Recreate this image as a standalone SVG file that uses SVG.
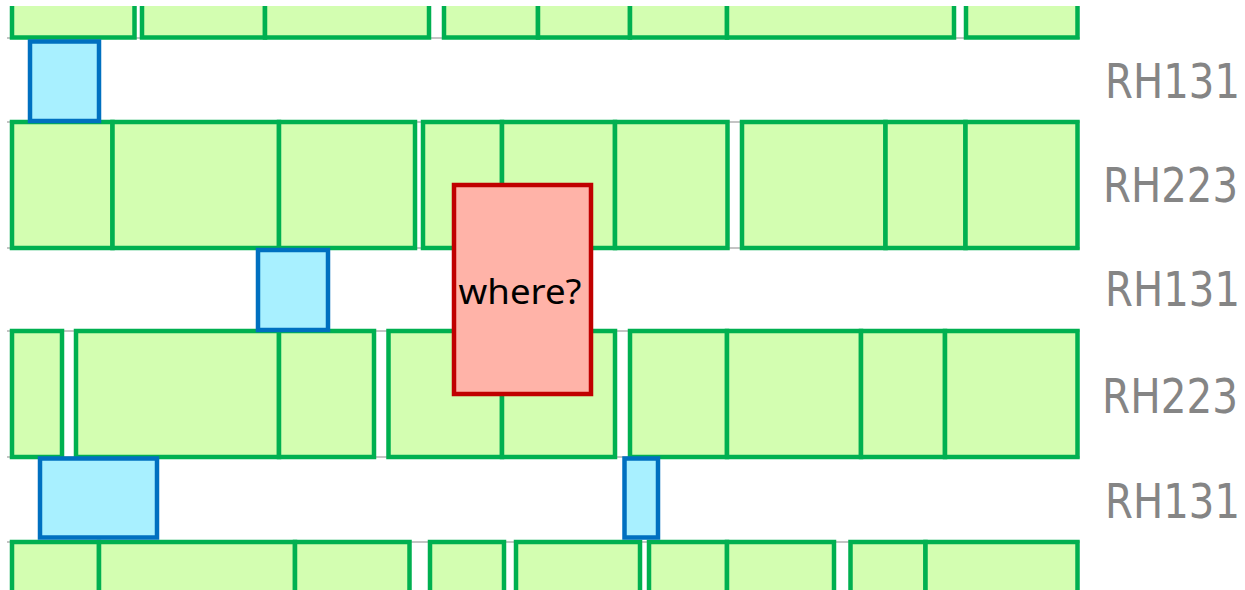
<svg xmlns="http://www.w3.org/2000/svg" width="1245" height="590" viewBox="0 0 1245 590">
<style>
.g{fill:#D3FEB1;stroke:#00B050;stroke-width:4.5}
.b{fill:#A8F0FF;stroke:#0070C0;stroke-width:4.5}
.r{fill:#FFB3A8;stroke:#C00000;stroke-width:4.5}
.trk{stroke:#C4C4C4;stroke-width:2}
.lbl{font-family:"DejaVu Sans",Verdana,sans-serif;font-size:48px;fill:#858585}
.q{font-family:"Noto Sans","Open Sans",sans-serif;font-size:35px;fill:#000}
</style>
<defs>
<clipPath id="clip"><rect x="0" y="6" width="1245" height="590"/></clipPath>
</defs>
<rect width="1245" height="590" fill="#fff"/>
<g id="tracks">
<line class="trk" x1="7" y1="38" x2="1080" y2="38"/>
<line class="trk" x1="7" y1="122" x2="1080" y2="122"/>
<line class="trk" x1="7" y1="248" x2="1080" y2="248"/>
<line class="trk" x1="7" y1="331" x2="1080" y2="331"/>
<line class="trk" x1="7" y1="457" x2="1080" y2="457"/>
<line class="trk" x1="7" y1="542" x2="1080" y2="542"/>
</g>
<g clip-path="url(#clip)">
<g id="row1">
<rect class="g" x="12" y="-20" width="122.5" height="57.5"/>
<rect class="g" x="142" y="-20" width="123" height="57.5"/>
<rect class="g" x="265" y="-20" width="164" height="57.5"/>
<rect class="g" x="444" y="-20" width="94" height="57.5"/>
<rect class="g" x="538" y="-20" width="92" height="57.5"/>
<rect class="g" x="630" y="-20" width="97" height="57.5"/>
<rect class="g" x="727" y="-20" width="227" height="57.5"/>
<rect class="g" x="966" y="-20" width="111.5" height="57.5"/>
</g>
<g id="row2">
<rect class="g" x="12" y="122" width="100.5" height="126"/>
<rect class="g" x="112.5" y="122" width="166.5" height="126"/>
<rect class="g" x="279" y="122" width="136" height="126"/>
<rect class="g" x="423" y="122" width="79" height="126"/>
<rect class="g" x="502" y="122" width="113" height="126"/>
<rect class="g" x="615" y="122" width="112.5" height="126"/>
<rect class="g" x="742" y="122" width="143.5" height="126"/>
<rect class="g" x="885.5" y="122" width="80" height="126"/>
<rect class="g" x="965.5" y="122" width="112" height="126"/>
</g>
<g id="row4">
<rect class="g" x="12" y="331" width="50" height="126"/>
<rect class="g" x="76" y="331" width="203" height="126"/>
<rect class="g" x="279" y="331" width="95" height="126"/>
<rect class="g" x="388.5" y="331" width="113.5" height="126"/>
<rect class="g" x="502" y="331" width="113" height="126"/>
<rect class="g" x="630" y="331" width="97" height="126"/>
<rect class="g" x="727" y="331" width="134" height="126"/>
<rect class="g" x="861" y="331" width="84" height="126"/>
<rect class="g" x="945" y="331" width="132.5" height="126"/>
</g>
<g id="row6">
<rect class="g" x="12" y="542" width="87" height="70"/>
<rect class="g" x="99" y="542" width="196" height="70"/>
<rect class="g" x="295" y="542" width="114.5" height="70"/>
<rect class="g" x="430" y="542" width="74" height="70"/>
<rect class="g" x="516" y="542" width="124" height="70"/>
<rect class="g" x="649" y="542" width="78" height="70"/>
<rect class="g" x="727" y="542" width="107" height="70"/>
<rect class="g" x="850.5" y="542" width="75" height="70"/>
<rect class="g" x="925.5" y="542" width="152" height="70"/>
</g>
</g>
<g id="blue1"><rect class="b" x="30" y="41.5" width="69" height="79.5"/></g>
<g id="blue2"><rect class="b" x="258" y="250" width="70" height="80"/></g>
<g id="blue3"><rect class="b" x="40" y="458.5" width="117" height="79"/></g>
<g id="blue4"><rect class="b" x="624.5" y="458.5" width="33.5" height="79"/></g>
<g id="where">
<rect class="r" x="454" y="185" width="137" height="209"/>
<text class="q" x="520" y="304" text-anchor="middle" textLength="123" lengthAdjust="spacingAndGlyphs">where?</text>
</g>
<g id="labels">
<text class="lbl" x="1105" y="98" textLength="135" lengthAdjust="spacingAndGlyphs">RH131</text>
<text class="lbl" x="1103" y="202" textLength="135" lengthAdjust="spacingAndGlyphs">RH223</text>
<text class="lbl" x="1105" y="306" textLength="135" lengthAdjust="spacingAndGlyphs">RH131</text>
<text class="lbl" x="1102" y="413" textLength="136" lengthAdjust="spacingAndGlyphs">RH223</text>
<text class="lbl" x="1105" y="518" textLength="135" lengthAdjust="spacingAndGlyphs">RH131</text>
</g>
</svg>
